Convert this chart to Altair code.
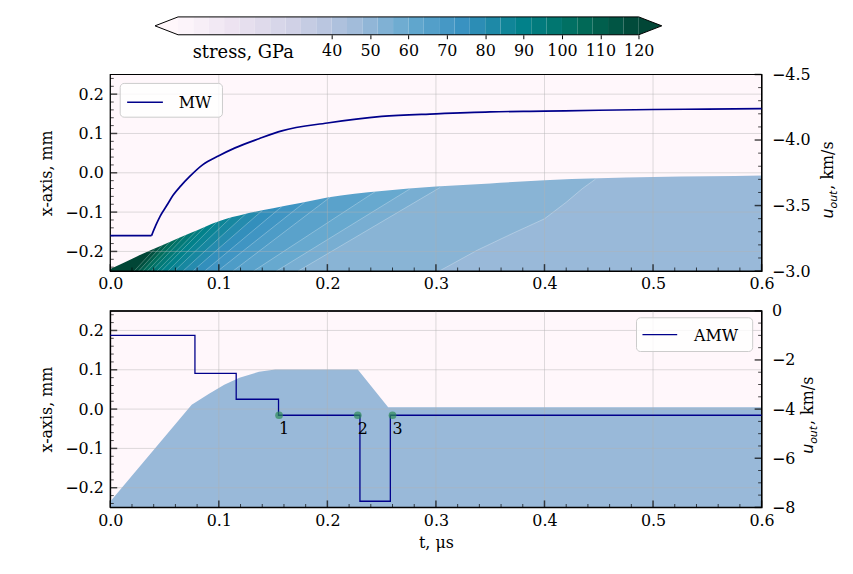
import altair as alt
import pandas as pd

FONT = "DejaVu Serif"
SANS = "DejaVu Sans"
NAVY = "#00008b"
PINK = "#fff7fb"
GRID = "#b0b0b0"

W, H = 656, 198
CB_H = 18

# ---------------- data ----------------
CMAP_VALUES = [0, 15, 30, 45, 60, 75, 90, 105, 120]
CMAP_COLORS = ["#fff7fb", "#ece2f0", "#d0d1e6", "#a6bddb", "#67a9cf",
               "#3690c0", "#02818a", "#016c59", "#014636"]

CB_LEVELS = list(range(0, 124, 4))
CB_TICKS = [40, 50, 60, 70, 80, 90, 100, 110, 120]
CB_TIP = [-6, 126]

BND_T = [0.0, 0.025, 0.05, 0.075, 0.1, 0.125, 0.15, 0.175, 0.2, 0.25, 0.3, 0.35, 0.4, 0.45, 0.5, 0.55, 0.6]
BND_X = [-0.245, -0.212, -0.182, -0.152, -0.123, -0.104, -0.09, -0.077, -0.063, -0.046, -0.035, -0.027,
         -0.019, -0.014, -0.011, -0.009, -0.007]

ISO_T = [
    [0.022, 0.041], [0.026, 0.048], [0.030, 0.055], [0.034, 0.063], [0.038, 0.0695],
    [0.043, 0.080], [0.047, 0.087], [0.053, 0.099], [0.059, 0.111], [0.067, 0.125],
    [0.076, 0.140], [0.087, 0.158], [0.099, 0.179], [0.113, 0.203], [0.132, 0.244],
    [0.153, 0.276], [0.173, 0.304],
    [0.303, 0.338, 0.37, 0.40, 0.42, 0.435, 0.447],
]
ISO_X = [
    [-0.25, -0.193], [-0.25, -0.184], [-0.25, -0.175], [-0.25, -0.166], [-0.25, -0.159],
    [-0.25, -0.146], [-0.25, -0.138], [-0.25, -0.123], [-0.25, -0.114], [-0.25, -0.104],
    [-0.25, -0.096], [-0.25, -0.086], [-0.25, -0.075], [-0.25, -0.061], [-0.25, -0.048],
    [-0.25, -0.041], [-0.25, -0.037],
    [-0.25, -0.197, -0.155, -0.117, -0.075, -0.040, -0.016],
]
BAND_STRESS = [122, 116, 110, 104, 100, 96, 93, 90, 87, 84, 80, 76, 72, 68, 64, 60, 56, 52, 48]

MW_T = [0.0, 0.038, 0.042, 0.046, 0.052, 0.058, 0.065, 0.073, 0.085, 0.1, 0.115, 0.137, 0.158,
        0.2, 0.25, 0.3, 0.35, 0.4, 0.45, 0.5, 0.55, 0.6]
MW_U = [-3.27, -3.27, -3.35, -3.42, -3.50, -3.58, -3.65, -3.72, -3.81, -3.88, -3.94, -4.01, -4.07,
        -4.13, -4.18, -4.20, -4.215, -4.22, -4.227, -4.233, -4.236, -4.24]
MW_KINK = 0.038

BA_T = [0.0, 0.075, 0.091, 0.105, 0.119, 0.137, 0.152, 0.228, 0.256, 0.6]
BA_X = [-0.235, 0.011, 0.039, 0.062, 0.080, 0.095, 0.101, 0.101, 0.005, 0.005]
BA_S = 48

AMW_T = [0.0, 0.078, 0.116, 0.155, 0.230, 0.258, 0.6]
AMW_U = [-1.0, -2.55, -3.6, -4.25, -7.75, -4.25, -4.25]

PT_T = [0.1555, 0.228, 0.26]
PT_U = [-4.25, -4.25, -4.25]
PT_LBL = ["1", "2", "3"]

X_MAJ = [0.0, 0.1, 0.2, 0.3, 0.4, 0.5, 0.6]
X_MIN = [round(0.02 * i, 2) for i in range(31) if i % 5]
Y_MAJ = [-0.2, -0.1, 0.0, 0.1, 0.2]
Y_MIN = [round(-0.24 + 0.02 * i, 2) for i in range(25) if (i - 2) % 5]
R1_MAJ = [-4.5, -4.0, -3.5, -3.0]
R1_MIN = [round(-4.5 + 0.1 * i, 1) for i in range(16) if i % 5]
R2_MAJ = [0, -2, -4, -6, -8]
R2_MIN = [-0.5 * i for i in range(17) if i % 4]

# ---------------- scales ----------------
stress_scale = alt.Scale(domain=CMAP_VALUES, range=CMAP_COLORS, interpolate="rgb", clamp=True)
tx = alt.Scale(domain=[0, 0.6], nice=False, zero=False, padding=0)
ly = alt.Scale(domain=[-0.25, 0.25], nice=False, zero=False, padding=0)
ry1 = alt.Scale(domain=[-4.5, -3.0], nice=False, zero=False, reverse=True, padding=0)
ry2 = alt.Scale(domain=[-8, 0], nice=False, zero=False, padding=0)

one = pd.DataFrame({"k": [0]})


def x_axis(title):
    kw = dict(values=X_MAJ, format=".1f", ticks=False, domain=False, grid=False,
              labelPadding=5, labelFlush=False)
    if title:
        return alt.Axis(title=title, titlePadding=6, **kw)
    return alt.Axis(title=None, **kw)


Y_AX_L = alt.Axis(values=Y_MAJ, format=".1f", ticks=False, domain=False, grid=False,
                  labelPadding=7, labelFlush=False, title="x-axis, mm", titlePadding=10)


def right_axis(vals, fmt):
    return alt.Axis(orient="right", values=vals, format=fmt, ticks=False, domain=False,
                    grid=False, labelPadding=10, labelFlush=False, title=None)


def tick_layers(xax, yscale, yax, ymaj, ymin, right=False):
    out = []
    for vals, size, th in [(X_MAJ, 7, 1.5), (X_MIN, 3.5, 1.0)]:
        out.append(alt.Chart(pd.DataFrame({"t": vals})).mark_tick(
            orient="vertical", size=size, thickness=th, color="black").encode(
            x=alt.X("t:Q", scale=tx, axis=xax), y=alt.value(H - size / 2)))
    for vals, size, th in [(ymaj, 7, 1.5), (ymin, 3.5, 1.0)]:
        xpos = W - size / 2 if right else size / 2
        out.append(alt.Chart(pd.DataFrame({"v": vals})).mark_tick(
            orient="horizontal", size=size, thickness=th, color="black").encode(
            y=alt.Y("v:Q", scale=yscale, axis=yax), x=alt.value(xpos)))
    return out


def grid_layers(xax):
    gx = alt.Chart(pd.DataFrame({"t": X_MAJ[1:-1]})).mark_rule(
        color=GRID, strokeWidth=0.8, opacity=0.55).encode(x=alt.X("t:Q", scale=tx, axis=xax))
    gy = alt.Chart(pd.DataFrame({"v": Y_MAJ})).mark_rule(
        color=GRID, strokeWidth=0.8, opacity=0.55).encode(y=alt.Y("v:Q", scale=ly, axis=Y_AX_L))
    return [gx, gy]


def frame_layer():
    return alt.Chart(one).mark_rect(fillOpacity=0, stroke="black", strokeWidth=1.2).encode(
        x=alt.value(0), x2=alt.value(W), y=alt.value(0), y2=alt.value(H))


def legend_layers(x0, x1, y0, y1, lx0, lx1, ly0, tx0, label):
    box = alt.Chart(one).mark_rect(fill="white", fillOpacity=0.8, stroke="#cccccc",
                                   strokeWidth=1, cornerRadius=4).encode(
        x=alt.value(x0), x2=alt.value(x1), y=alt.value(y0), y2=alt.value(y1))
    line = alt.Chart(one).mark_rule(color=NAVY, strokeWidth=1.5).encode(
        x=alt.value(lx0), x2=alt.value(lx1), y=alt.value(ly0))
    txt = alt.Chart(one).mark_text(font=FONT, fontSize=16, align="left", baseline="middle",
                                   color="black").encode(
        x=alt.value(tx0), y=alt.value(ly0 + 1), text=alt.value(label))
    return [box, line, txt]


def uout_title(xb, yb):
    u = alt.Chart(one).mark_text(font=SANS, fontStyle="italic", fontSize=16, angle=270,
                                 align="left", baseline="alphabetic", color="black").encode(
        x=alt.value(xb), y=alt.value(yb), text=alt.value("u"))
    sub = alt.Chart(one).mark_text(font=SANS, fontStyle="italic", fontSize=11, angle=270,
                                   align="left", baseline="alphabetic", color="black").encode(
        x=alt.value(xb + 4), y=alt.value(yb - 10), text=alt.value("out"))
    rest = alt.Chart(one).mark_text(font=FONT, fontSize=16, angle=270,
                                    align="left", baseline="alphabetic", color="black").encode(
        x=alt.value(xb), y=alt.value(yb - 29), text=alt.value(", km/s"))
    return [u, sub, rest]


# ---------------- colorbar ----------------
cbx = alt.Scale(domain=[-17.66, 152.0], nice=False, zero=False, padding=0)
cby = alt.Scale(domain=[0, 1], nice=False, zero=False, padding=0)
CB_AX = alt.Axis(values=CB_TICKS, format="d", ticks=True, tickSize=4, tickColor="black",
                 tickWidth=1, domain=False, grid=False, labelPadding=4, title=None,
                 labelFontSize=16, labelFlush=False)

cb_df = pd.DataFrame({"a": CB_LEVELS[:-1], "b": CB_LEVELS[1:],
                      "s": [v + 2 for v in CB_LEVELS[:-1]], "y0": 0, "y1": 1})
cb_rect = alt.Chart(cb_df).mark_rect(strokeWidth=0).encode(
    x=alt.X("a:Q", scale=cbx, axis=CB_AX), x2="b:Q",
    y=alt.Y("y0:Q", scale=cby, axis=None), y2="y1:Q",
    color=alt.Color("s:Q", scale=stress_scale, legend=None))

tri_layers = []
for xs, s in [([CB_TIP[0], CB_LEVELS[0]], 0), ([CB_LEVELS[-1], CB_TIP[1]], 125)]:
    tdf = pd.DataFrame({"cx": xs, "y": [0.5, 1] if s == 0 else [1, 0.5],
                        "y2": [0.5, 0] if s == 0 else [0, 0.5], "s": s})
    tri_layers.append(alt.Chart(tdf).mark_area().encode(
        x=alt.X("cx:Q", scale=cbx, axis=CB_AX),
        y=alt.Y("y:Q", scale=cby, axis=None, stack=None), y2="y2:Q",
        color=alt.Color("s:Q", scale=stress_scale, legend=None)))

out_df = pd.DataFrame({
    "cx": [CB_TIP[0], CB_LEVELS[0], CB_LEVELS[-1], CB_TIP[1], CB_LEVELS[-1], CB_LEVELS[0], CB_TIP[0]],
    "y": [0.5, 1, 1, 0.5, 0, 0, 0.5], "o": list(range(7))})
cb_out = alt.Chart(out_df).mark_line(color="black", strokeWidth=1).encode(
    x=alt.X("cx:Q", scale=cbx, axis=CB_AX), y=alt.Y("y:Q", scale=cby, axis=None), order="o:Q")

cb_lbl = alt.Chart(one).mark_text(font=FONT, fontSize=18, align="center", baseline="alphabetic",
                                  color="black").encode(
    x=alt.value(134), y=alt.value(41), text=alt.value("stress, GPa"))

colorbar = alt.layer(cb_rect, *tri_layers, cb_out, cb_lbl).properties(
    width=W, height=CB_H, view=alt.ViewBackground(stroke="transparent"))

# ---------------- top panel ----------------
XA1 = x_axis(None)

band_layers = []
band_pts = [([0.0, 0.6], [0.25, 0.25])]
for ts, xs in zip(ISO_T, ISO_X):
    band_pts.append((ts + [ts[-1] + 0.0005, 0.6], xs + [0.25, 0.25]))
for (ts, xs), s in zip(band_pts, BAND_STRESS):
    bdf = pd.DataFrame({"t": ts, "x": xs, "lo": -0.25, "s": s})
    band_layers.append(alt.Chart(bdf).mark_area(clip=True).encode(
        x=alt.X("t:Q", scale=tx, axis=XA1),
        y=alt.Y("x:Q", scale=ly, axis=Y_AX_L, stack=None), y2="lo:Q",
        color=alt.Color("s:Q", scale=stress_scale, legend=None)))

iso_line_layers = []
for ts, xs in zip(ISO_T, ISO_X):
    idf = pd.DataFrame({"t": ts, "x": xs})
    iso_line_layers.append(alt.Chart(idf).mark_line(color="white", strokeWidth=0.7, opacity=0.4).encode(
        x=alt.X("t:Q", scale=tx, axis=XA1), y=alt.Y("x:Q", scale=ly, axis=Y_AX_L)))

bnd_df = pd.DataFrame({"t": BND_T, "x": BND_X, "hi": 0.25})
cover = alt.Chart(bnd_df).mark_area(color=PINK, clip=True, interpolate="monotone").encode(
    x=alt.X("t:Q", scale=tx, axis=XA1),
    y=alt.Y("x:Q", scale=ly, axis=Y_AX_L, stack=None), y2="hi:Q")

RA1 = right_axis(R1_MAJ, ".1f")
mw_df = pd.DataFrame({"t": MW_T, "u": MW_U})
mw_flat = alt.Chart(mw_df[mw_df.t <= MW_KINK]).mark_line(color=NAVY, strokeWidth=1.7).encode(
    x=alt.X("t:Q", scale=tx, axis=XA1), y=alt.Y("u:Q", scale=ry1, axis=RA1))
mw_rise = alt.Chart(mw_df[mw_df.t >= MW_KINK]).mark_line(
    color=NAVY, strokeWidth=1.7, interpolate="monotone").encode(
    x=alt.X("t:Q", scale=tx, axis=XA1), y=alt.Y("u:Q", scale=ry1, axis=RA1))

tk1 = tick_layers(XA1, ly, Y_AX_L, Y_MAJ, Y_MIN)
rt1 = tick_layers(XA1, ry1, RA1, R1_MAJ, R1_MIN, right=True)[2:]

left1 = alt.layer(*band_layers, *iso_line_layers, cover, *grid_layers(XA1), frame_layer(), *tk1,
                  *legend_layers(10, 113, 9, 43, 17, 53, 28, 69, "MW"),
                  *uout_title(728, 145))
right1 = alt.layer(mw_flat, mw_rise, *rt1)
top = alt.layer(left1, right1).resolve_scale(y="independent").properties(
    width=W, height=H, view=alt.ViewBackground(fill=PINK, stroke="black", strokeWidth=1.2))

# ---------------- bottom panel ----------------
XA2 = x_axis("t, μs")
ba_df = pd.DataFrame({"t": BA_T, "x": BA_X, "lo": -0.25, "s": BA_S})
barea = alt.Chart(ba_df).mark_area(clip=True).encode(
    x=alt.X("t:Q", scale=tx, axis=XA2),
    y=alt.Y("x:Q", scale=ly, axis=Y_AX_L, stack=None), y2="lo:Q",
    color=alt.Color("s:Q", scale=stress_scale, legend=None))

RA2 = right_axis(R2_MAJ, "d")
amw_df = pd.DataFrame({"t": AMW_T, "u": AMW_U})
amw = alt.Chart(amw_df).mark_line(color=NAVY, strokeWidth=1.3, interpolate="step-after").encode(
    x=alt.X("t:Q", scale=tx, axis=XA2), y=alt.Y("u:Q", scale=ry2, axis=RA2))
pt_df = pd.DataFrame({"t": PT_T, "u": PT_U, "lbl": PT_LBL})
pts = alt.Chart(pt_df).mark_circle(size=60, color="#2e8b57", opacity=0.7).encode(
    x=alt.X("t:Q", scale=tx, axis=XA2), y=alt.Y("u:Q", scale=ry2, axis=RA2))
pt_txt = alt.Chart(pt_df).mark_text(font=FONT, fontSize=16, dx=5, dy=14, align="center",
                                    baseline="middle", color="black").encode(
    x=alt.X("t:Q", scale=tx, axis=XA2), y=alt.Y("u:Q", scale=ry2, axis=RA2), text="lbl:N")

tk2 = tick_layers(XA2, ly, Y_AX_L, Y_MAJ, Y_MIN)
rt2 = tick_layers(XA2, ry2, RA2, R2_MAJ, R2_MIN, right=True)[2:]

left2 = alt.layer(barea, *grid_layers(XA2), frame_layer(), *tk2,
                  *legend_layers(530, 647, 7, 41, 536, 571, 24, 588, "AMW"),
                  *uout_title(708, 144))
right2 = alt.layer(amw, pts, pt_txt, *rt2)
bottom = alt.layer(left2, right2).resolve_scale(y="independent").properties(
    width=W, height=H, view=alt.ViewBackground(fill=PINK, stroke="black", strokeWidth=1.2))

chart = alt.vconcat(colorbar, top, bottom, spacing=40, bounds="flush").properties(
    padding={"left": 30, "top": 4, "right": 5, "bottom": 5}
).configure_axis(
    labelFont=FONT, titleFont=FONT, labelFontSize=16, titleFontSize=16,
    labelColor="black", titleColor="black", titleFontWeight="normal"
).configure_view(stroke="black")

chart.save("out.html", embed_options={"renderer": "svg", "actions": False})
